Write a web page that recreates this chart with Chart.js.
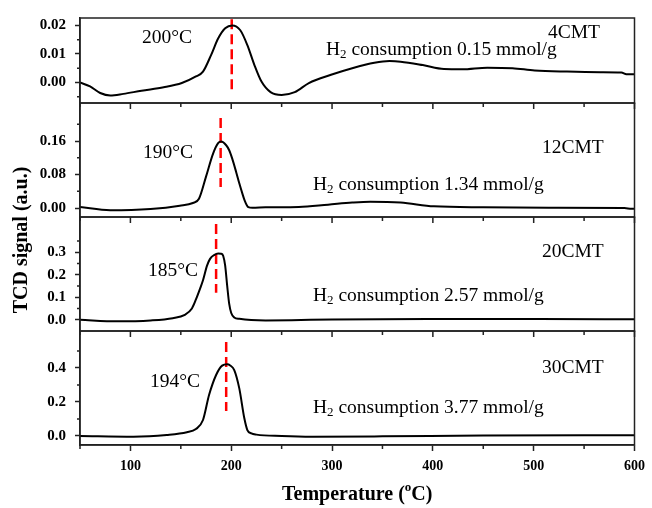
<!DOCTYPE html>
<html>
<head>
<meta charset="utf-8">
<script src="https://cdn.jsdelivr.net/npm/chart.js@4.4.1/dist/chart.umd.min.js"></script>
<style>
  html, body { margin: 0; padding: 0; background: #fff; }
  #wrap { width: 652px; height: 508px; }
</style>
</head>
<body>
<div id="wrap"><canvas id="tpr" width="652" height="508"></canvas></div>
<script>
// --- data ---
const samples     = ['4CMT', '12CMT', '20CMT', '30CMT'];
const peakLabels  = ['200°C', '190°C', '185°C', '194°C'];
const consumption = ['0.15', '1.34', '2.57', '3.77'];

const xTicks = [100, 200, 300, 400, 500, 600];
const xMinor = [50, 150, 250, 350, 450, 550];

// 4CMT
const t1 = [50, 60, 70, 80, 93, 111, 133, 151, 165, 172, 180, 187, 194, 201, 209, 216, 223, 230, 239, 250,
            263, 277, 299, 320, 342, 357, 368, 390, 411, 429, 454, 479, 501, 533, 566, 587, 592, 600];
const s1 = [0.0000, -0.0014, -0.0037, -0.0046, -0.0040, -0.0029, -0.0017, -0.0002, 0.0021, 0.0038,
            0.0096, 0.0154, 0.0190, 0.0200, 0.0183, 0.0131, 0.0061, 0.0003, -0.0034, -0.0044,
            -0.0034, -0.0002, 0.0027, 0.0050, 0.0069, 0.0075, 0.0073, 0.0061, 0.0047, 0.0046,
            0.0052, 0.0050, 0.0042, 0.0038, 0.0036, 0.0035, 0.0029, 0.0029];
// 12CMT
const t2 = [50, 80, 120, 149, 162, 168, 175, 182, 187, 190, 195, 198, 201, 205, 208, 211, 213, 217, 221, 234,
            267, 296, 320, 338, 368, 401, 450, 515, 590, 597, 600];
const s2 = [0.0024, -0.0055, -0.0024, 0.0055, 0.012, 0.022, 0.075, 0.130, 0.155, 0.159,
            0.150, 0.138, 0.118, 0.085, 0.059, 0.035, 0.020, 0.002, 0.0005, 0.0016,
            0.0024, 0.008, 0.013, 0.015, 0.013, 0.004, 0.0016, 0.0008, 0.0, -0.002, -0.002];
// 20CMT
const t3 = [50, 87, 120, 142, 154, 161, 165, 169, 172, 176, 179, 183, 187, 190, 192, 194, 196, 198, 200, 203,
            208, 234, 260, 300, 400, 500, 600];
const s3 = [0.000, -0.007, -0.003, 0.007, 0.022, 0.050, 0.090, 0.137, 0.175, 0.240,
            0.270, 0.287, 0.294, 0.293, 0.284, 0.240, 0.150, 0.070, 0.030, 0.010,
            0.004, -0.003, -0.002, 0.001, 0.003, 0.003, 0.002];
// 30CMT
const t4 = [50, 103, 136, 156, 165, 172, 178, 185, 191, 196, 199, 203, 208, 213, 216, 220, 225, 250, 280, 350,
            450, 550, 600];
const s4 = [0.000, -0.004, 0.006, 0.022, 0.041, 0.094, 0.241, 0.359, 0.414, 0.422,
            0.415, 0.388, 0.280, 0.104, 0.035, 0.015, 0.008, 0.000, -0.004, -0.002,
            0.003, 0.005, 0.005];

// red dashed peak markers
const peakT     = [200.5, 189.5, 185, 195];
const dashTop   = [0.0222, 0.215, 0.425, 0.553];
const dashBot   = [-0.0025, 0.050, 0.120, 0.147];

// y axes
const yTicks  = [[0, 0.01, 0.02], [0, 0.08, 0.16], [0, 0.1, 0.2, 0.3], [0, 0.2, 0.4]];
const yMinorT = [[-0.005, 0.005, 0.015], [0.04, 0.12, 0.20], [0.05, 0.15, 0.25, 0.35], [0.1, 0.3, 0.5]];
const yDigits = [2, 2, 1, 1];
const yMin    = [-0.0072, -0.0215, -0.050, -0.053];
const yMax    = [0.0226, 0.251, 0.456, 0.6176];
const yWeight = [85, 114, 114, 114];

const temps   = [t1, t2, t3, t4];
const signals = [s1, s2, s3, s4];

// --- chart ---
const FONT = "'Liberation Serif', 'Times New Roman', serif";
Chart.defaults.font.family = FONT;
Chart.defaults.color = '#000';

const axisIds = ['y1', 'y2', 'y3', 'y4'];

const datasets = [];
axisIds.forEach((id, i) => {
  datasets.push({
    label: samples[i],
    data: temps[i].map((t, k) => ({ x: t, y: signals[i][k] })),
    yAxisID: id,
    borderColor: '#000',
    borderWidth: 2,
    pointRadius: 0,
    tension: 0.4,
    cubicInterpolationMode: 'monotone'
  });
  datasets.push({
    label: samples[i] + ' peak',
    data: [{ x: peakT[i], y: dashTop[i] }, { x: peakT[i], y: dashBot[i] }],
    yAxisID: id,
    borderColor: '#ff0000',
    borderWidth: 2.5,
    borderDash: [10, 5],
    pointRadius: 0
  });
});

function yScale(i) {
  return {
    type: 'linear',
    position: 'left',
    stack: 'tcd',
    stackWeight: yWeight[i],
    min: yMin[i],
    max: yMax[i],
    afterBuildTicks: s => { s.ticks = yTicks[i].map(v => ({ value: v })); },
    afterFit: s => { s.width = 60; },
    ticks: {
      font: { size: 15, weight: 'bold' },
      color: '#000',
      padding: 9,
      callback: v => Number(v).toFixed(yDigits[i])
    },
    grid: { drawOnChartArea: false, drawTicks: true, tickLength: 5, color: '#222', tickWidth: 1.5 },
    border: { display: true, color: '#222', width: 1.5 }
  };
}

// bottom panel first, top panel last (stacked boxes are laid out from highest index down)
const scales = {
  x: {
    type: 'linear',
    position: 'bottom',
    min: 50,
    max: 600,
    afterBuildTicks: s => { s.ticks = xTicks.map(v => ({ value: v })); },
    afterFit: s => { s.height = 63; },
    ticks: { font: { size: 14, weight: 'bold' }, color: '#000', padding: 7 },
    grid: { drawOnChartArea: false, drawTicks: true, tickLength: 6, color: '#222', tickWidth: 1.5 },
    border: { display: true, color: '#222', width: 1.5 }
  }
};
for (let i = 3; i >= 0; i--) scales[axisIds[i]] = yScale(i);

// label placement (pixels)
const labelPos = [
  { peak: [142, 38], name: [548, 33], h2: [326, 50] },
  { peak: [143, 153], name: [542, 148], h2: [313, 185] },
  { peak: [148, 271], name: [542, 252], h2: [313, 296] },
  { peak: [150, 382], name: [542, 368], h2: [313, 408] }
];

function drawH2(ctx, x, y, value) {
  ctx.font = '19.5px ' + FONT;
  ctx.fillText('H', x, y);
  let w = ctx.measureText('H').width;
  ctx.font = '13px ' + FONT;
  ctx.fillText('2', x + w, y + 5);
  w += ctx.measureText('2').width;
  ctx.font = '19.5px ' + FONT;
  ctx.fillText(' consumption ' + value + ' mmol/g', x + w, y);
}

const panelPlugin = {
  id: 'panels',
  afterDraw(chart) {
    const ctx = chart.ctx;
    const area = chart.chartArea;
    const xs = chart.scales.x;
    ctx.save();
    ctx.strokeStyle = '#222';
    ctx.lineWidth = 1.5;
    axisIds.forEach((id, i) => {
      const ys = chart.scales[id];
      ctx.strokeRect(area.left, ys.top, area.right - area.left, ys.bottom - ys.top);
      ctx.beginPath();
      if (i < 3) {
        xTicks.forEach(v => {
          const px = xs.getPixelForValue(v);
          ctx.moveTo(px, ys.bottom); ctx.lineTo(px, ys.bottom + 6);
        });
      }
      xMinor.forEach(v => {
        const px = xs.getPixelForValue(v);
        ctx.moveTo(px, ys.bottom); ctx.lineTo(px, ys.bottom + 4);
      });
      yMinorT[i].forEach(v => {
        const py = ys.getPixelForValue(v);
        ctx.moveTo(area.left - 3, py); ctx.lineTo(area.left, py);
      });
      ctx.stroke();
    });

    // annotations
    ctx.fillStyle = '#000';
    ctx.textBaseline = 'middle';
    ctx.textAlign = 'left';
    labelPos.forEach((p, i) => {
      ctx.font = '19.5px ' + FONT;
      ctx.fillText(peakLabels[i], p.peak[0], p.peak[1]);
      ctx.fillText(samples[i], p.name[0], p.name[1]);
      drawH2(ctx, p.h2[0], p.h2[1], consumption[i]);
    });

    // axis titles
    const cx = (area.left + area.right) / 2;
    const a = 'Temperature (', b = 'C)';
    ctx.font = 'bold 20px ' + FONT;
    const wa = ctx.measureText(a).width, wb = ctx.measureText(b).width;
    ctx.font = 'bold 13px ' + FONT;
    const wo = ctx.measureText('o').width;
    const x0 = cx - (wa + wo + wb) / 2;
    const ty = 495;
    ctx.font = 'bold 20px ' + FONT;
    ctx.fillText(a, x0, ty);
    ctx.font = 'bold 13px ' + FONT;
    ctx.fillText('o', x0 + wa, ty - 7);
    ctx.font = 'bold 20px ' + FONT;
    ctx.fillText(b, x0 + wa + wo, ty);

    ctx.translate(22, 240);
    ctx.rotate(-Math.PI / 2);
    ctx.textAlign = 'center';
    ctx.font = 'bold 20px ' + FONT;
    ctx.fillText('TCD signal (a.u.)', 0, 0);
    ctx.restore();
  }
};

new Chart(document.getElementById('tpr'), {
  type: 'line',
  data: { datasets },
  options: {
    responsive: false,
    animation: false,
    layout: { padding: { left: 20, right: 12, top: 18, bottom: 0 } },
    plugins: { legend: { display: false }, tooltip: { enabled: false } },
    scales
  },
  plugins: [panelPlugin]
});
</script>
</body>
</html>
